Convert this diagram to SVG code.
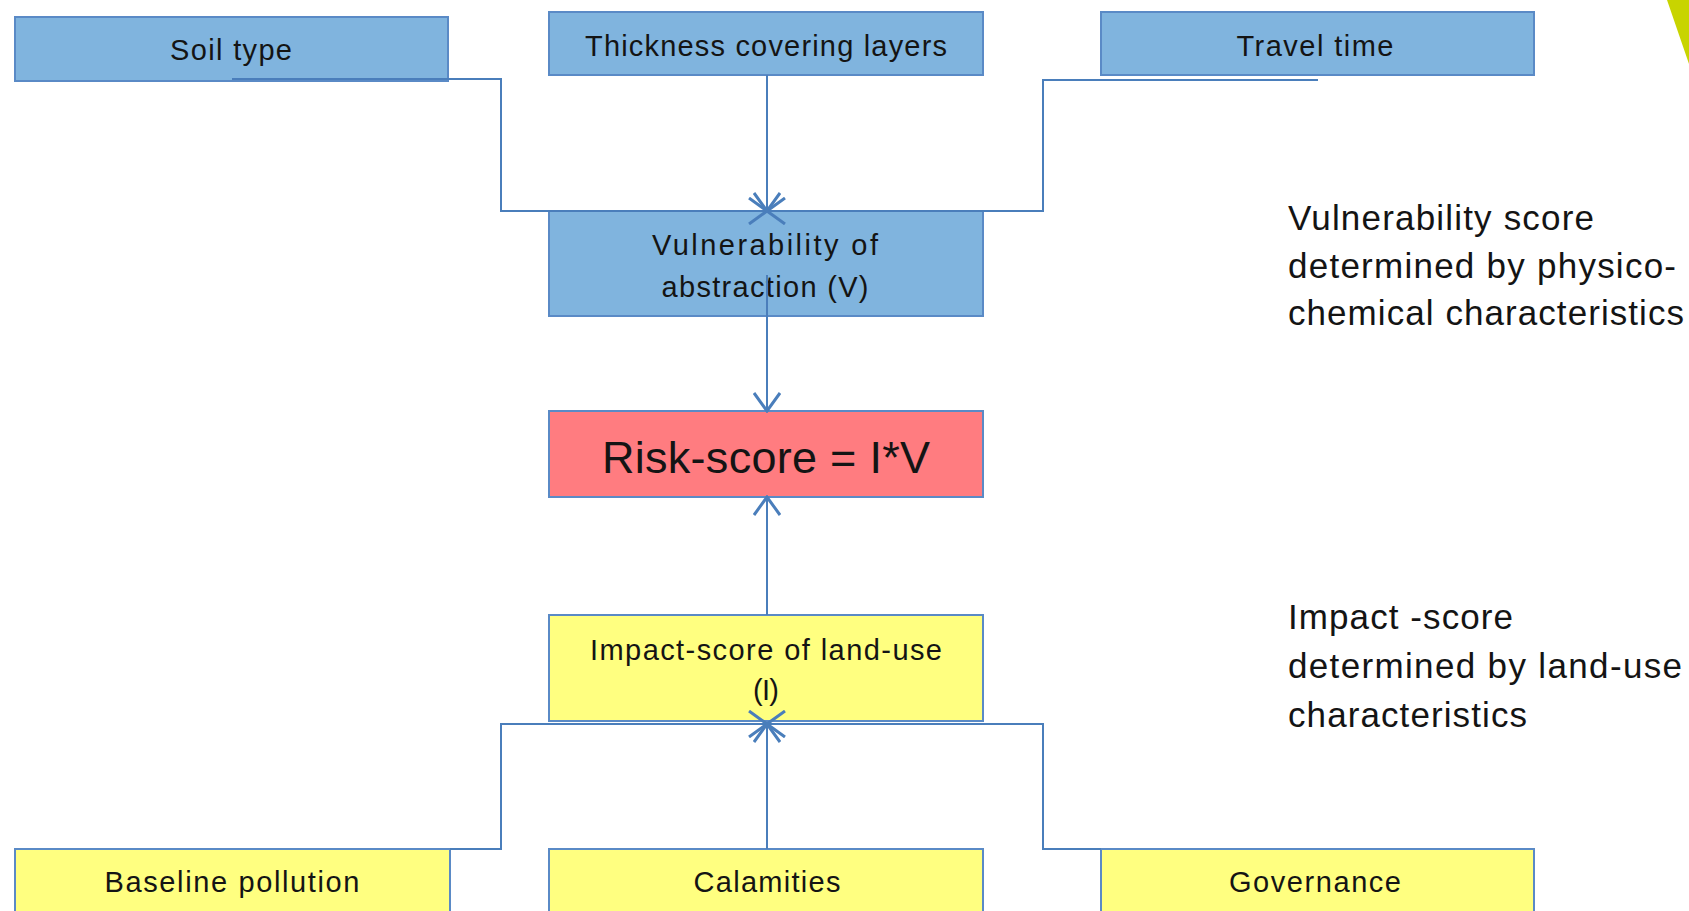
<svg xmlns="http://www.w3.org/2000/svg" width="1689" height="911" viewBox="0 0 1689 911">
<style>
.blue{fill:#80B4DE;stroke:#5A8AC6;stroke-width:2}
.red{fill:#FF7C80;stroke:#5A8AC6;stroke-width:2}
.yel{fill:#FFFF80;stroke:#5A8AC6;stroke-width:2}
.lbl{font-family:"Liberation Sans",Arial,sans-serif;font-size:29px;fill:#141414;text-anchor:middle}
.big{font-family:"Liberation Sans",Arial,sans-serif;font-size:45px;fill:#141414;text-anchor:middle}
.note{font-family:"Liberation Sans",Arial,sans-serif;font-size:35px;fill:#141414}
.con{fill:none;stroke:#4A7EBB;stroke-width:2}
</style>
<defs>
<marker id="arr" viewBox="0 0 22 28" refX="20" refY="14" markerWidth="22" markerHeight="28" markerUnits="userSpaceOnUse" orient="auto">
<path d="M2,1 L20,14 L2,27" fill="none" stroke="#4A7EBB" stroke-width="3"/>
</marker>
</defs>
<rect width="1689" height="911" fill="#FFFFFF"/>
<polygon points="1667,0 1689,0 1689,64" fill="#C8D400"/>

<g id="soil-type"><rect class="blue" x="15" y="17" width="433" height="64"/><text class="lbl" x="231" y="60" textLength="122" lengthAdjust="spacing">Soil type</text></g>
<g id="thickness"><rect class="blue" x="549" y="12" width="434" height="63"/><text class="lbl" x="766" y="56" textLength="362" lengthAdjust="spacing">Thickness covering layers</text></g>
<g id="travel-time"><rect class="blue" x="1101" y="12" width="433" height="63"/><text class="lbl" x="1315" y="56" textLength="157" lengthAdjust="spacing">Travel time</text></g>
<g id="vulnerability"><rect class="blue" x="549" y="211" width="434" height="105"/><text class="lbl" x="765" y="255" textLength="226" lengthAdjust="spacing">Vulnerability  of</text><text class="lbl" x="765" y="297" textLength="207" lengthAdjust="spacing">abstraction (V)</text></g>
<g id="risk"><rect class="red" x="549" y="411" width="434" height="86"/><text class="big" x="766" y="473" textLength="328" lengthAdjust="spacing">Risk-score = I*V</text></g>
<g id="impact"><rect class="yel" x="549" y="615" width="434" height="106"/><text class="lbl" x="766" y="660" textLength="352" lengthAdjust="spacing">Impact-score of land-use</text><text class="lbl" x="766" y="700" textLength="26" lengthAdjust="spacing">(I)</text></g>
<g id="baseline-pollution"><rect class="yel" x="15" y="849" width="435" height="70"/><text class="lbl" x="232" y="892" textLength="255" lengthAdjust="spacing">Baseline pollution</text></g>
<g id="calamities"><rect class="yel" x="549" y="849" width="434" height="70"/><text class="lbl" x="767" y="892" textLength="147" lengthAdjust="spacing">Calamities</text></g>
<g id="governance"><rect class="yel" x="1101" y="849" width="433" height="70"/><text class="lbl" x="1315" y="892" textLength="172" lengthAdjust="spacing">Governance</text></g>

<g id="note-vulnerability">
<text class="note" x="1288" y="230" textLength="306" lengthAdjust="spacing">Vulnerability score</text>
<text class="note" x="1288" y="278" textLength="388" lengthAdjust="spacing">determined by physico-</text>
<text class="note" x="1288" y="325" textLength="396" lengthAdjust="spacing">chemical characteristics</text>
</g>
<g id="note-impact">
<text class="note" x="1288" y="629" textLength="225" lengthAdjust="spacing">Impact -score</text>
<text class="note" x="1288" y="678" textLength="394" lengthAdjust="spacing">determined by land-use</text>
<text class="note" x="1288" y="727" textLength="239" lengthAdjust="spacing">characteristics</text>
</g>

<g id="connectors">
<path class="con" d="M232,79 H501 V211 H767" marker-end="url(#arr)"/>
<path class="con" d="M1318,80 H1043 V211 H767" marker-end="url(#arr)"/>
<path class="con" d="M767,75 V211" marker-end="url(#arr)"/>
<path class="con" d="M767,275 V411" marker-end="url(#arr)"/>
<path class="con" d="M767,615 V497" marker-end="url(#arr)"/>
<path class="con" d="M450,849 H501 V724 H767" marker-end="url(#arr)"/>
<path class="con" d="M1101,849 H1043 V724 H767" marker-end="url(#arr)"/>
<path class="con" d="M767,849 V724" marker-end="url(#arr)"/>
</g>
</svg>
